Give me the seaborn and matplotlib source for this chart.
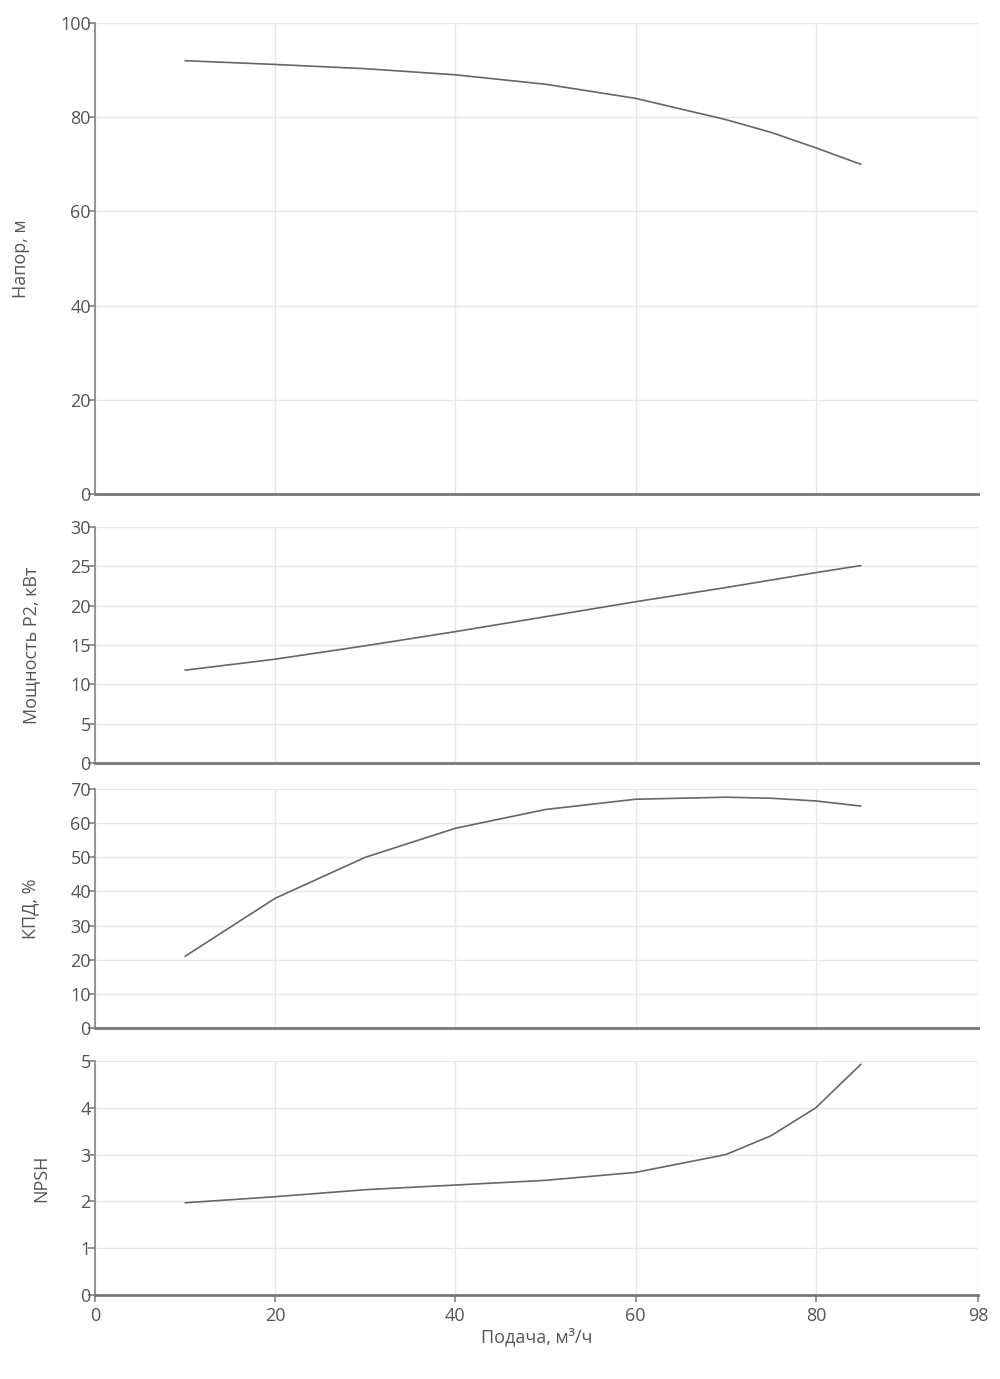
import matplotlib
matplotlib.use("Agg")
import matplotlib.pyplot as plt
import seaborn as sns
import pandas as pd

flow = [10, 20, 30, 40, 50, 60, 70, 75, 80, 85]
head = [92, 91.2, 90.3, 89, 87, 84, 79.5, 76.8, 73.5, 70]
power = [11.8, 13.2, 14.9, 16.7, 18.6, 20.5, 22.3, 23.25, 24.2, 25.1]
eff = [21, 38, 50, 58.5, 64, 67, 67.6, 67.3, 66.5, 65]
npsh = [1.97, 2.1, 2.25, 2.35, 2.45, 2.62, 3.0, 3.4, 4.0, 4.93]

panels = [
    ("Напор, м", head, 100, [0, 20, 40, 60, 80, 100]),
    ("Мощность P2, кВт", power, 30, [0, 5, 10, 15, 20, 25, 30]),
    ("КПД, %", eff, 70, [0, 10, 20, 30, 40, 50, 60, 70]),
    ("NPSH", npsh, 5, [0, 1, 2, 3, 4, 5]),
]
xticks = [0, 20, 40, 60, 80, 98]

sns.set_theme(style="white")
plt.rcParams['font.family'] = ['Open Sans', 'DejaVu Sans']
fig = plt.figure(figsize=(10, 13.79), dpi=100)
W, H = 1000, 1379
boxes = [(23, 494), (527, 763), (789, 1028), (1061, 1295)]
gray = "#555555"
for i, ((label, vals, ymax, yt), (t, b)) in enumerate(zip(panels, boxes)):
    ax = fig.add_axes([95 / W, 1 - b / H, (978 - 95) / W, (b - t) / H])
    df = pd.DataFrame({"x": flow, "y": vals})
    sns.lineplot(data=df, x="x", y="y", ax=ax, color="#666666", linewidth=1.2)
    ax.set_xlim(0, 98)
    ax.set_ylim(0, ymax)
    ax.set_yticks(yt)
    ax.set_xticks(xticks)
    ax.grid(True, color="#e4e6f0", linewidth=1)
    for s in ["top", "right"]:
        ax.spines[s].set_visible(False)
    ax.spines["left"].set_color("#888888")
    ax.spines["bottom"].set_color("#777777")
    ax.spines["bottom"].set_linewidth(2)
    ax.tick_params(axis="y", left=True, length=5, color="#888888", labelsize=13, labelcolor=gray, pad=-2)
    ax.set_ylabel(label, fontsize=13, color=gray, labelpad=22)
    if i == 3:
        ax.tick_params(axis="x", bottom=True, length=5, color="#888888", labelsize=13, labelcolor=gray)
        ax.set_xlabel("Подача, м³/ч", fontsize=13, color=gray, labelpad=2)
    else:
        ax.tick_params(axis="x", labelbottom=False)
        ax.set_xlabel("")
fig.savefig("out.png", dpi=100)
